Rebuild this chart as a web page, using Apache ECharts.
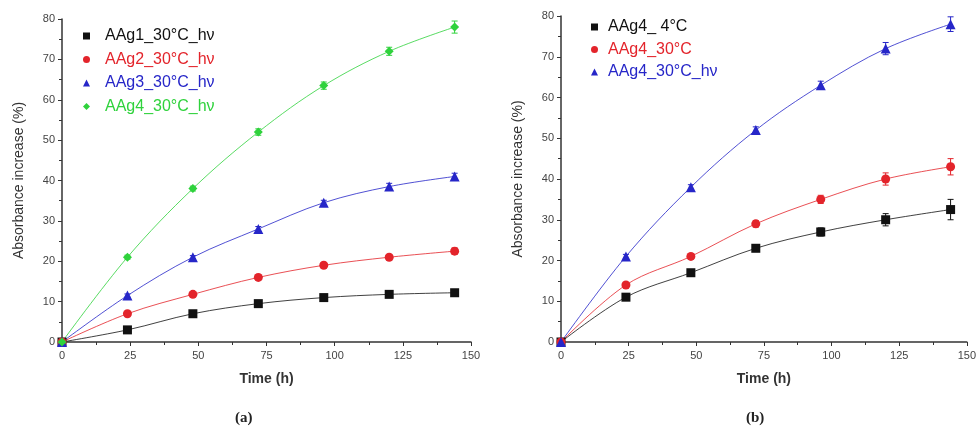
<!DOCTYPE html>
<html>
<head>
<meta charset="utf-8">
<script src="https://cdn.jsdelivr.net/npm/echarts@6/dist/echarts.min.js"></script>
<style>
html, body { margin: 0; padding: 0; background: #fff; }
#main { width: 979px; height: 430px; }
</style>
</head>
<body>
<div id="main"></div>
<script>
// time points (h)
var times = [0, 24, 48, 72, 96, 120, 144]

// panel (a)
var namesA = ['AAg1_30°C_hν', 'AAg2_30°C_hν', 'AAg3_30°C_hν', 'AAg4_30°C_hν']
var aag1 = [0, 3, 7, 9.5, 11, 11.8, 12.2]
var aag2 = [0, 7, 11.8, 16, 19, 21, 22.5]
var aag3 = [0, 11.5, 21, 28, 34.5, 38.5, 41]
var aag4 = [0, 21, 38, 52, 63.5, 72, 78]
var errA1 = [0, 0.4, 0.4, 0.8, 0.5, 0.6, 0.8]
var errA2 = [0, 0.4, 0.4, 0.6, 0.6, 0.6, 0.8]
var errA3 = [0, 0.4, 0.4, 0.6, 0.6, 0.8, 0.8]
var errA4 = [0, 0.5, 0.6, 0.8, 0.9, 1.0, 1.5]

// panel (b)
var namesB = ['AAg4_ 4°C', 'AAg4_30°C', 'AAg4_30°C_hν']
var b4c = [0, 11, 17, 23, 27, 30, 32.5]
var b30 = [0, 14, 21, 29, 35, 40, 43]
var b30hv = [0, 21, 38, 52, 63, 72, 78]
var errB1 = [0, 0.5, 0.6, 0.8, 1.0, 1.5, 2.5]
var errB2 = [0, 0.5, 0.6, 0.8, 1.0, 1.5, 2.0]
var errB3 = [0, 0.5, 0.6, 0.8, 1.0, 1.5, 1.8]

var colors = { black: '#111111', red: '#e3242b', blue: '#2626c8', green: '#2fd23c' }

function pairs(vals) {
    return times.map((t, i) => [t, vals[i]])
}
function triples(vals, errs) {
    return times.map((t, i) => [t, vals[i], errs[i]])
}

function errRender(params, api) {
    var x = api.value(0), y = api.value(1), e = api.value(2)
    if (!e) return
    var hi = api.coord([x, y + e]), lo = api.coord([x, y - e])
    var c = api.visual('color')
    var w = 3
    var st = { stroke: c, lineWidth: 1 }
    return {
        type: 'group',
        children: [
            { type: 'line', shape: { x1: hi[0], y1: hi[1], x2: lo[0], y2: lo[1] }, style: st },
            { type: 'line', shape: { x1: hi[0] - w, y1: hi[1], x2: hi[0] + w, y2: hi[1] }, style: st },
            { type: 'line', shape: { x1: lo[0] - w, y1: lo[1], x2: lo[0] + w, y2: lo[1] }, style: st }
        ]
    }
}

function lineSeries(name, vals, color, symbol, idx) {
    return {
        name: name,
        type: 'line',
        xAxisIndex: idx, yAxisIndex: idx,
        data: pairs(vals),
        smooth: 0.35,
        symbol: symbol,
        symbolSize: symbol == 'triangle' ? 10 : 9,
        itemStyle: { color: color },
        lineStyle: { color: color, width: 1, opacity: 0.8 },
        z: 3
    }
}
function errSeries(vals, errs, color, idx) {
    return {
        type: 'custom',
        xAxisIndex: idx, yAxisIndex: idx,
        data: triples(vals, errs),
        renderItem: errRender,
        itemStyle: { color: color },
        silent: true,
        z: 2
    }
}

function xAxis(idx) {
    return {
        gridIndex: idx,
        type: 'value',
        min: 0, max: 150, interval: 25,
        name: 'Time (h)',
        nameLocation: 'middle',
        nameGap: 30,
        nameTextStyle: { fontSize: 14, color: '#333', fontFamily: 'Liberation Sans', fontWeight: 'bold' },
        axisLine: { lineStyle: { color: '#333', width: 1.5 } },
        axisTick: { length: 4, lineStyle: { color: '#333' } },
        minorTick: { show: true, splitNumber: 2, length: 3, lineStyle: { color: '#333' } },
        axisLabel: { color: '#444', fontSize: 11, fontFamily: 'Liberation Sans', margin: 8 },
        splitLine: { show: false }
    }
}
function yAxis(idx) {
    return {
        gridIndex: idx,
        type: 'value',
        min: 0, max: 80, interval: 10,
        name: 'Absorbance increase (%)',
        nameLocation: 'middle',
        nameGap: 36,
        nameTextStyle: { fontSize: 14, color: '#333', fontFamily: 'Liberation Sans' },
        axisLine: { show: true, lineStyle: { color: '#333', width: 1.5 } },
        axisTick: { show: true, length: 4, lineStyle: { color: '#333' } },
        minorTick: { show: true, splitNumber: 2, length: 3, lineStyle: { color: '#333' } },
        axisLabel: { color: '#444', fontSize: 11, fontFamily: 'Liberation Sans', margin: 7 },
        splitLine: { show: false }
    }
}

function legendItem(name, color, icon) {
    return { name: name, icon: icon, itemStyle: { color: color }, textStyle: { color: color } }
}

var option = {
    backgroundColor: '#fff',
    animation: false,
    grid: [
        { left: 62, right: 508, top: 19, bottom: 88 },
        { left: 561, right: 11, top: 16, bottom: 88 }
    ],
    xAxis: [xAxis(0), xAxis(1)],
    yAxis: [yAxis(0), yAxis(1)],
    legend: [
        {
            orient: 'vertical', left: 83, top: 28, padding: 0,
            itemWidth: 7, itemHeight: 7, itemGap: 7.5,
            data: [
                legendItem(namesA[0], colors.black, 'rect'),
                legendItem(namesA[1], colors.red, 'circle'),
                legendItem(namesA[2], colors.blue, 'triangle'),
                legendItem(namesA[3], colors.green, 'diamond')
            ],
            textStyle: { fontSize: 16, lineHeight: 16, fontFamily: 'Liberation Sans', padding: [0, 0, 0, 10] }
        },
        {
            orient: 'vertical', left: 591, top: 19, padding: 0,
            itemWidth: 7, itemHeight: 7, itemGap: 6.5,
            data: [
                legendItem(namesB[0], colors.black, 'rect'),
                legendItem(namesB[1], colors.red, 'circle'),
                legendItem(namesB[2], colors.blue, 'triangle')
            ],
            textStyle: { fontSize: 16, lineHeight: 16, fontFamily: 'Liberation Sans', padding: [0, 0, 0, 5] }
        }
    ],
    graphic: [
        { type: 'text', left: 235, top: 411, style: { text: '(a)', font: 'bold 15px "Liberation Serif"', fill: '#222' } },
        { type: 'text', left: 746, top: 411, style: { text: '(b)', font: 'bold 15px "Liberation Serif"', fill: '#222' } }
    ],
    series: [
        errSeries(aag1, errA1, colors.black, 0),
        errSeries(aag2, errA2, colors.red, 0),
        errSeries(aag3, errA3, colors.blue, 0),
        errSeries(aag4, errA4, colors.green, 0),
        lineSeries(namesA[0], aag1, colors.black, 'rect', 0),
        lineSeries(namesA[1], aag2, colors.red, 'circle', 0),
        lineSeries(namesA[2], aag3, colors.blue, 'triangle', 0),
        lineSeries(namesA[3], aag4, colors.green, 'diamond', 0),
        errSeries(b4c, errB1, colors.black, 1),
        errSeries(b30, errB2, colors.red, 1),
        errSeries(b30hv, errB3, colors.blue, 1),
        lineSeries(namesB[0], b4c, colors.black, 'rect', 1),
        lineSeries(namesB[1], b30, colors.red, 'circle', 1),
        lineSeries(namesB[2], b30hv, colors.blue, 'triangle', 1)
    ]
}

var myChart = echarts.init(document.getElementById('main'))
myChart.setOption(option)
</script>
</body>
</html>
